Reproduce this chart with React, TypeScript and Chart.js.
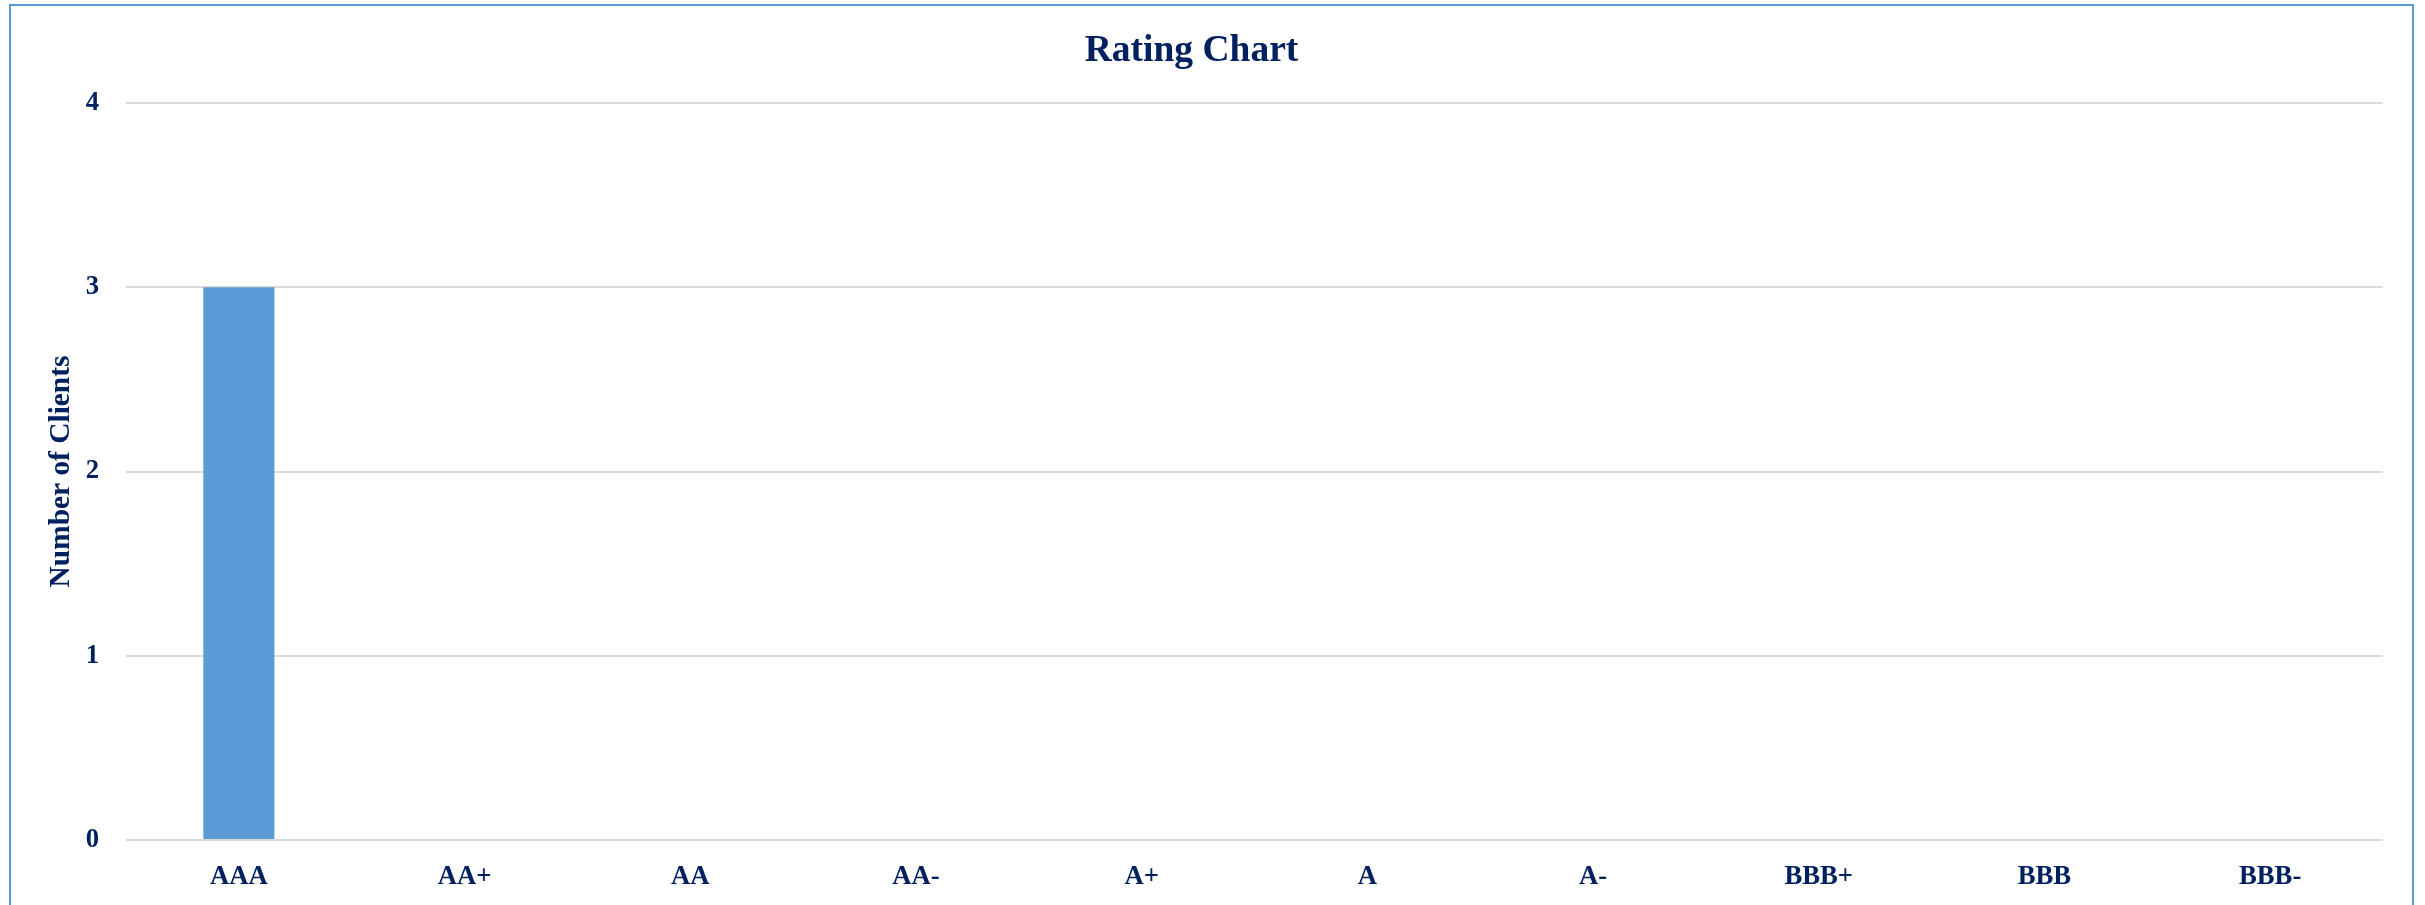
import React, { useEffect, useRef } from "react";
import { Chart, registerables } from "chart.js";

Chart.register(...registerables);

const categories = ["AAA", "AA+", "AA", "AA-", "A+", "A", "A-", "BBB+", "BBB", "BBB-"];
const clientCounts = [3, 0, 0, 0, 0, 0, 0, 0, 0, 0];
const yTicks = [0, 1, 2, 3, 4];

const TEXT = "#002060";
const FONT = "'Liberation Serif', 'Times New Roman', serif";

export default function App() {
  const ref = useRef<HTMLCanvasElement | null>(null);

  useEffect(() => {
    if (!ref.current) return;
    const chart = new Chart(ref.current, {
      type: "bar",
      data: {
        labels: categories,
        datasets: [
          {
            label: "Number of Clients",
            data: clientCounts,
            backgroundColor: "#5B9BD5",
            borderWidth: 0,
            barPercentage: 0.315,
            categoryPercentage: 1,
          },
        ],
      },
      options: {
        responsive: false,
        animation: false,
        devicePixelRatio: 1,
        layout: { padding: { top: 0, right: 42, bottom: 0, left: 0 } },
        plugins: {
          legend: { display: false },
          tooltip: { enabled: false },
          title: {
            display: true,
            text: "Rating Chart",
            color: TEXT,
            font: { family: FONT, size: 37.5, weight: "bold" },
            padding: { top: 29, bottom: 29 },
          },
        },
        scales: {
          x: {
            grid: { display: false, drawTicks: false },
            border: { display: false },
            ticks: {
              color: TEXT,
              font: { family: FONT, size: 26.7, weight: "bold" },
              padding: 21.5,
              maxRotation: 0,
              autoSkip: false,
            },
            afterFit: (scale: any) => {
              scale.height = 65;
            },
          },
          y: {
            min: yTicks[0],
            max: yTicks[yTicks.length - 1],
            grid: { color: "#D9D9D9", lineWidth: 2, drawTicks: false },
            border: { display: false },
            ticks: {
              stepSize: 1,
              color: TEXT,
              font: { family: FONT, size: 26.7, weight: "bold" },
              padding: 27,
            },
            title: {
              display: true,
              text: "Number of Clients",
              color: TEXT,
              font: { family: FONT, size: 29.4, weight: "bold" },
              padding: { top: 43.4, bottom: 0 },
            },
            afterFit: (scale: any) => {
              scale.width = 126;
            },
          },
        },
      },
    });
    return () => chart.destroy();
  }, []);

  return (
    <>
      <canvas
        ref={ref}
        width={2425}
        height={905}
        style={{ position: "absolute", left: 0, top: 0, width: 2425, height: 905 }}
      />
      <div
        style={{
          position: "absolute",
          left: 9,
          top: 4,
          width: 2405,
          height: 901,
          boxSizing: "border-box",
          borderTop: "2px solid #5B9BD5",
          borderLeft: "2px solid #5B9BD5",
          borderRight: "2px solid #5B9BD5",
          borderBottom: "none",
          pointerEvents: "none",
        }}
      />
    </>
  );
}
